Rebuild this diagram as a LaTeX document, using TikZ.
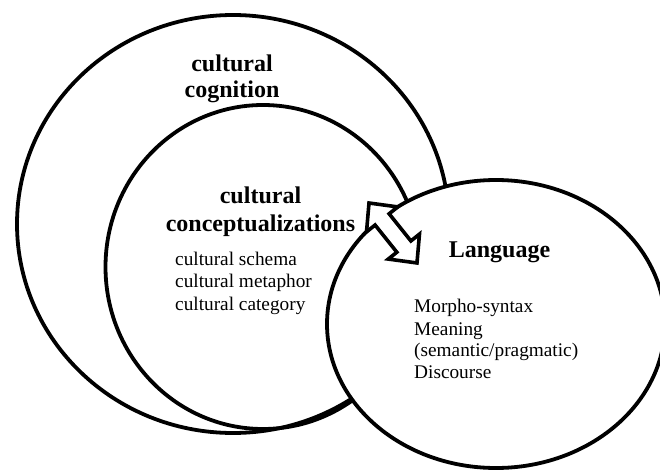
\documentclass[tikz,border=0pt]{standalone}
\usepackage{fontspec}
\setmainfont{Liberation Serif}
\usetikzlibrary{calc}
\begin{document}
\begin{tikzpicture}[x=1pt,y=1pt,
  ring/.style={line width=3.8pt},
  bigtitle/.style={font=\fontsize{24}{26}\selectfont\bfseries, inner sep=0pt, anchor=base},
  item/.style={font=\fontsize{19.3}{22}\selectfont, inner sep=0pt, anchor=base west},
  hollowarrow/.style={line width=3.6pt, fill=white, line join=miter}]
\useasboundingbox (0,0) rectangle (660,-470);
\clip (0,0) rectangle (660,-470);
% outer ellipse: cultural cognition
\draw[ring] (233,-224) ellipse [x radius=216, y radius=209];
% inner ellipse: cultural conceptualizations
\draw[ring] (263,-267) ellipse [x radius=157.5, y radius=162];
% Language
\draw[ring, fill=white] (496,-324) ellipse [x radius=169, y radius=144];
% double arrow
\coordinate (A) at (369,-203);
\coordinate (B) at (417,-263);
\begin{scope}[shift={(A)}, rotate=-51.34]
\draw[hollowarrow] (0,0) -- (21,20) -- (21,9) -- (55.8,9) -- (55.8,20) -- (76.8,0)
  -- (55.8,-20) -- (55.8,-9) -- (21,-9) -- (21,-20) -- cycle;
\end{scope}
% texts
\node[bigtitle] (cc1) at (232,-72) {cultural};
\node[bigtitle] (cc2) at (232,-98) {cognition};
\node[bigtitle] (cz1) at (260.5,-204) {cultural};
\node[bigtitle] (cz2) at (260.5,-231) {conceptualizations};
\node[bigtitle] (lg) at (499.5,-257) {Language};
\node[item] (i1) at (175,-265) {cultural schema};
\node[item] (i2) at (175,-287.5) {cultural metaphor};
\node[item] (i3) at (175,-310) {cultural category};
\node[item] (l1) at (414,-312.5) {Morpho-syntax};
\node[item] (l2) at (414,-335) {Meaning};
\node[item] (l3) at (414,-356.5) {(semantic/pragmatic)};
\node[item] (l4) at (414,-378) {Discourse};
\end{tikzpicture}
\end{document}
